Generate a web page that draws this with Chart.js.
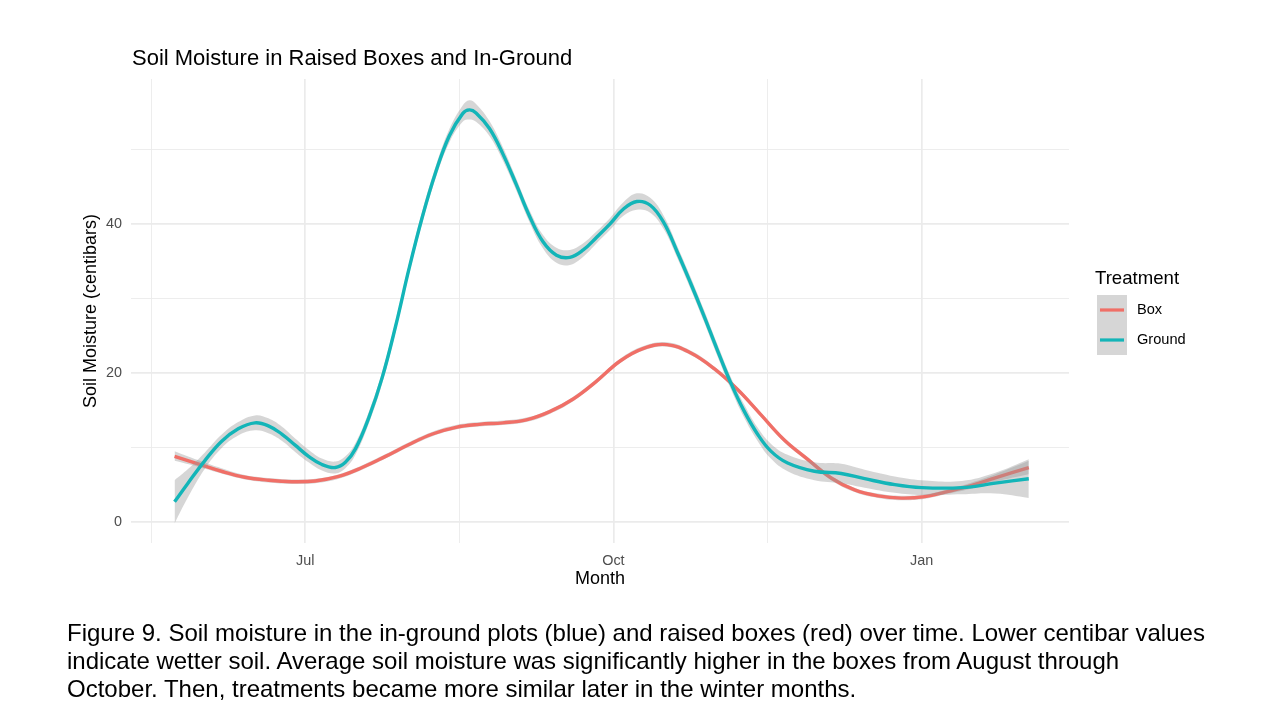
<!DOCTYPE html>
<html>
<head>
<meta charset="utf-8">
<script src="https://cdn.jsdelivr.net/npm/chart.js@4.4.1/dist/chart.umd.min.js"></script>
<style>
html, body { margin: 0; padding: 0; background: #fff; }
#wrap { position: relative; width: 1280px; height: 720px; overflow: hidden; }
#chart { position: absolute; left: 0; top: 0; }
#caption {
    position: absolute; left: 67px; top: 619px;
    font-family: 'Liberation Sans', Arial, sans-serif; font-size: 24px; line-height: 28px;
    color: #000; white-space: nowrap;
}
</style>
</head>
<body>
<div id="wrap">
    <canvas id="chart" width="1280" height="720"></canvas>
    <div id="caption">Figure 9. Soil moisture in the in-ground plots (blue) and raised boxes (red) over time. Lower centibar values<br>indicate wetter soil. Average soil moisture was significantly higher in the boxes from August through<br>October. Then, treatments became more similar later in the winter months.</div>
</div>
<script>
// Ground (in-ground plots): smoothed line and confidence band
const groundDates = ['2020-05-23','2020-05-27','2020-06-01','2020-06-06','2020-06-11','2020-06-16','2020-06-20','2020-06-24','2020-06-28',
    '2020-07-02','2020-07-06','2020-07-10','2020-07-13','2020-07-16','2020-07-20','2020-07-24','2020-07-28',
    '2020-08-01','2020-08-05','2020-08-09','2020-08-13','2020-08-17','2020-08-19','2020-08-21','2020-08-25','2020-08-29',
    '2020-09-02','2020-09-06','2020-09-10','2020-09-14','2020-09-18','2020-09-22','2020-09-26','2020-09-30',
    '2020-10-04','2020-10-08','2020-10-12','2020-10-16','2020-10-20','2020-10-24','2020-10-28',
    '2020-11-01','2020-11-05','2020-11-09','2020-11-13','2020-11-17','2020-11-22','2020-11-30',
    '2020-12-08','2020-12-15','2020-12-24','2021-01-01','2021-01-13','2021-01-23','2021-02-02'];
const groundMoisture = [2.7, 5.2, 8.2, 10.8, 12.5, 13.3, 12.9, 11.8, 10.3,
    8.8, 7.7, 7.3, 8.0, 9.8, 14.0, 19.4, 26.3,
    34.0, 41.0, 47.0, 51.8, 54.8, 55.3, 54.9, 52.8, 49.4,
    45.3, 41.0, 37.6, 35.8, 35.5, 36.5, 38.2, 40.0,
    42.0, 43.0, 42.5, 40.2, 36.3, 32.1, 27.7,
    23.1, 18.7, 14.9, 11.8, 9.5, 7.9, 6.8,
    6.5, 5.8, 5.0, 4.6, 4.6, 5.2, 5.8];
const groundLower = [-0.2, 3.3, 7.1, 9.9, 11.6, 12.3, 11.9, 10.9, 9.4,
    8.0, 6.9, 6.5, 7.2, 9.0, 13.2, 18.6, 25.6,
    33.3, 40.2, 46.2, 50.9, 53.7, 54.0, 53.7, 51.8, 48.5,
    44.5, 40.2, 36.7, 34.8, 34.5, 35.6, 37.4, 39.2,
    41.1, 41.9, 41.5, 39.3, 35.5, 31.3, 26.9,
    22.3, 17.9, 14.0, 10.9, 8.5, 6.8, 5.6,
    5.2, 4.6, 3.9, 3.6, 3.7, 3.8, 3.2];
const groundUpper = [5.6, 7.1, 9.3, 11.7, 13.4, 14.3, 13.9, 12.8, 11.2,
    9.7, 8.5, 8.1, 8.8, 10.6, 14.8, 20.2, 27.0,
    34.7, 41.8, 47.8, 52.7, 55.9, 56.6, 56.1, 53.8, 50.3,
    46.1, 41.8, 38.5, 36.8, 36.5, 37.4, 39.0, 40.8,
    42.9, 44.1, 43.5, 41.1, 37.1, 32.9, 28.5,
    23.9, 19.5, 15.8, 12.7, 10.5, 9.0, 8.0,
    7.8, 7.0, 6.1, 5.6, 5.5, 6.6, 8.4];

// Box (raised boxes): smoothed line and confidence band
const boxDates = ['2020-05-23','2020-05-30','2020-06-06','2020-06-13','2020-06-20','2020-06-27',
    '2020-07-04','2020-07-11','2020-07-18','2020-07-25','2020-08-01','2020-08-08','2020-08-15','2020-08-22','2020-08-29',
    '2020-09-05','2020-09-12','2020-09-19','2020-09-26','2020-10-03','2020-10-10','2020-10-17','2020-10-24','2020-10-31',
    '2020-11-07','2020-11-14','2020-11-21','2020-11-28','2020-12-05','2020-12-12','2020-12-19','2020-12-26',
    '2021-01-02','2021-01-09','2021-01-16','2021-01-23','2021-02-02'];
const boxMoisture = [8.8, 7.8, 6.8, 6.0, 5.6, 5.4,
    5.5, 6.1, 7.3, 8.8, 10.4, 11.8, 12.7, 13.1, 13.3,
    13.7, 14.8, 16.5, 18.9, 21.6, 23.3, 23.8, 22.7, 20.6,
    17.8, 14.4, 11.0, 8.4, 5.9, 4.3, 3.5, 3.2,
    3.4, 4.1, 4.9, 5.9, 7.3];
const boxLower = [8.2, 7.4, 6.5, 5.7, 5.3, 5.1,
    5.2, 5.8, 7.0, 8.5, 10.1, 11.5, 12.4, 12.8, 13.0,
    13.4, 14.5, 16.2, 18.6, 21.3, 23.0, 23.5, 22.4, 20.3,
    17.5, 14.1, 10.7, 8.1, 5.6, 4.0, 3.2, 2.9,
    3.1, 3.8, 4.5, 5.4, 6.4];
const boxUpper = [9.5, 8.3, 7.2, 6.3, 5.9, 5.7,
    5.8, 6.4, 7.6, 9.1, 10.7, 12.1, 13.0, 13.4, 13.6,
    14.0, 15.1, 16.8, 19.2, 21.9, 23.6, 24.1, 23.0, 20.9,
    18.1, 14.7, 11.3, 8.7, 6.2, 4.6, 3.8, 3.5,
    3.7, 4.4, 5.3, 6.4, 8.2];

// Ejes
const xMinDate = '2020-05-10';
const xMaxDate = '2021-02-14';
const xTickDates = ['2020-07-01', '2020-10-01', '2021-01-01'];
const xTickLabels = ['Jul', 'Oct', 'Jan'];
const xMinorDates = ['2020-05-16', '2020-08-16', '2020-11-16'];
const yMin = -2.83;
const yMax = 59.45;
const yMajorTicks = [0, 20, 40];
const yMinorTicks = [10, 30, 50];

const legendLabels = ['Box', 'Ground'];
const boxColor = '#F06F67';
const groundColor = '#13B5B8';
const bandColor = 'rgba(153, 153, 153, 0.4)';
const FONT = "'Liberation Sans', Arial, sans-serif";

// fecha -> días desde el 1 de julio
function toDay(s) {
    const [y, m, d] = s.split('-').map(Number);
    return (Date.UTC(y, m - 1, d) - Date.UTC(2020, 6, 1)) / 86400000;
}
function points(dates, values) {
    return dates.map((d, i) => ({ x: toDay(d), y: values[i] }));
}

const xMajorDays = xTickDates.map(toDay);
const xGridDays = xMajorDays.concat(xMinorDates.map(toDay)).sort((a, b) => a - b);

// Título y leyenda dibujados a mano (estilo ggplot)
const extrasPlugin = {
    id: 'extras',
    afterDraw(chart) {
        const ctx = chart.ctx;
        ctx.save();
        ctx.fillStyle = '#000';
        ctx.textAlign = 'left';
        ctx.textBaseline = 'alphabetic';
        ctx.font = '22px ' + FONT;
        ctx.fillText('Soil Moisture in Raised Boxes and In-Ground', chart.chartArea.left + 1, 65);

        ctx.font = '18.6px ' + FONT;
        ctx.fillText('Treatment', 1095, 284);

        const colors = [boxColor, groundColor];
        legendLabels.forEach((label, i) => {
            const top = 295 + i * 30;
            ctx.fillStyle = bandColor;
            ctx.fillRect(1097, top, 30, 30);
            ctx.strokeStyle = colors[i];
            ctx.lineWidth = 3.2;
            ctx.beginPath();
            ctx.moveTo(1100, top + 15);
            ctx.lineTo(1124, top + 15);
            ctx.stroke();
            ctx.fillStyle = '#000';
            ctx.font = '14.6px ' + FONT;
            ctx.textBaseline = 'middle';
            ctx.fillText(label, 1137, top + 15);
        });
        ctx.restore();
    }
};

const hidden = 'rgba(0,0,0,0)';
const common = { pointRadius: 0, tension: 0.4 };

new Chart(document.getElementById('chart').getContext('2d'), {
    type: 'line',
    data: {
        datasets: [
            { ...common, label: 'Box lower', data: points(boxDates, boxLower), borderColor: hidden, borderWidth: 0, fill: false, order: 5 },
            { ...common, label: 'Box upper', data: points(boxDates, boxUpper), borderColor: hidden, borderWidth: 0, fill: '-1', backgroundColor: bandColor, order: 4 },
            { ...common, label: 'Box', data: points(boxDates, boxMoisture), borderColor: boxColor, borderWidth: 3.4, fill: false, order: 3 },
            { ...common, label: 'Ground lower', data: points(groundDates, groundLower), borderColor: hidden, borderWidth: 0, fill: false, order: 2 },
            { ...common, label: 'Ground upper', data: points(groundDates, groundUpper), borderColor: hidden, borderWidth: 0, fill: '-1', backgroundColor: bandColor, order: 1 },
            { ...common, label: 'Ground', data: points(groundDates, groundMoisture), borderColor: groundColor, borderWidth: 3.4, fill: false, order: 0 }
        ]
    },
    options: {
        responsive: false,
        animation: false,
        layout: { padding: { left: 0, top: 79, right: 211, bottom: 117 } },
        plugins: {
            legend: { display: false },
            tooltip: { enabled: false },
            title: { display: false }
        },
        scales: {
            x: {
                type: 'linear',
                min: toDay(xMinDate),
                max: toDay(xMaxDate),
                afterBuildTicks: scale => { scale.ticks = xGridDays.map(v => ({ value: v })); },
                afterFit: scale => { scale.height = 60; },
                ticks: {
                    autoSkip: false,
                    maxRotation: 0,
                    padding: 9,
                    color: '#4D4D4D',
                    font: { family: FONT, size: 14.4 },
                    callback: value => {
                        const i = xMajorDays.indexOf(value);
                        return i >= 0 ? xTickLabels[i] : '';
                    }
                },
                grid: {
                    drawTicks: false,
                    color: '#EBEBEB',
                    lineWidth: ctx => (ctx.tick && xMajorDays.includes(ctx.tick.value)) ? 1.7 : 0.9
                },
                border: { display: false },
                title: { display: true, text: 'Month', color: '#000', font: { family: FONT, size: 18 }, padding: { top: 0, bottom: 13 } }
            },
            y: {
                type: 'linear',
                min: yMin,
                max: yMax,
                afterBuildTicks: scale => {
                    scale.ticks = yMajorTicks.concat(yMinorTicks).sort((a, b) => a - b).map(v => ({ value: v }));
                },
                afterFit: scale => { scale.width = 131; },
                ticks: {
                    padding: 9,
                    color: '#4D4D4D',
                    font: { family: FONT, size: 14.4 },
                    callback: value => yMajorTicks.includes(value) ? String(value) : ''
                },
                grid: {
                    drawTicks: false,
                    color: '#EBEBEB',
                    lineWidth: ctx => (ctx.tick && yMajorTicks.includes(ctx.tick.value)) ? 1.7 : 0.9
                },
                border: { display: false },
                title: { display: true, text: 'Soil Moisture (centibars)', color: '#000', font: { family: FONT, size: 18 }, padding: { top: 80, bottom: 0 } }
            }
        }
    },
    plugins: [extrasPlugin]
});
</script>
</body>
</html>
